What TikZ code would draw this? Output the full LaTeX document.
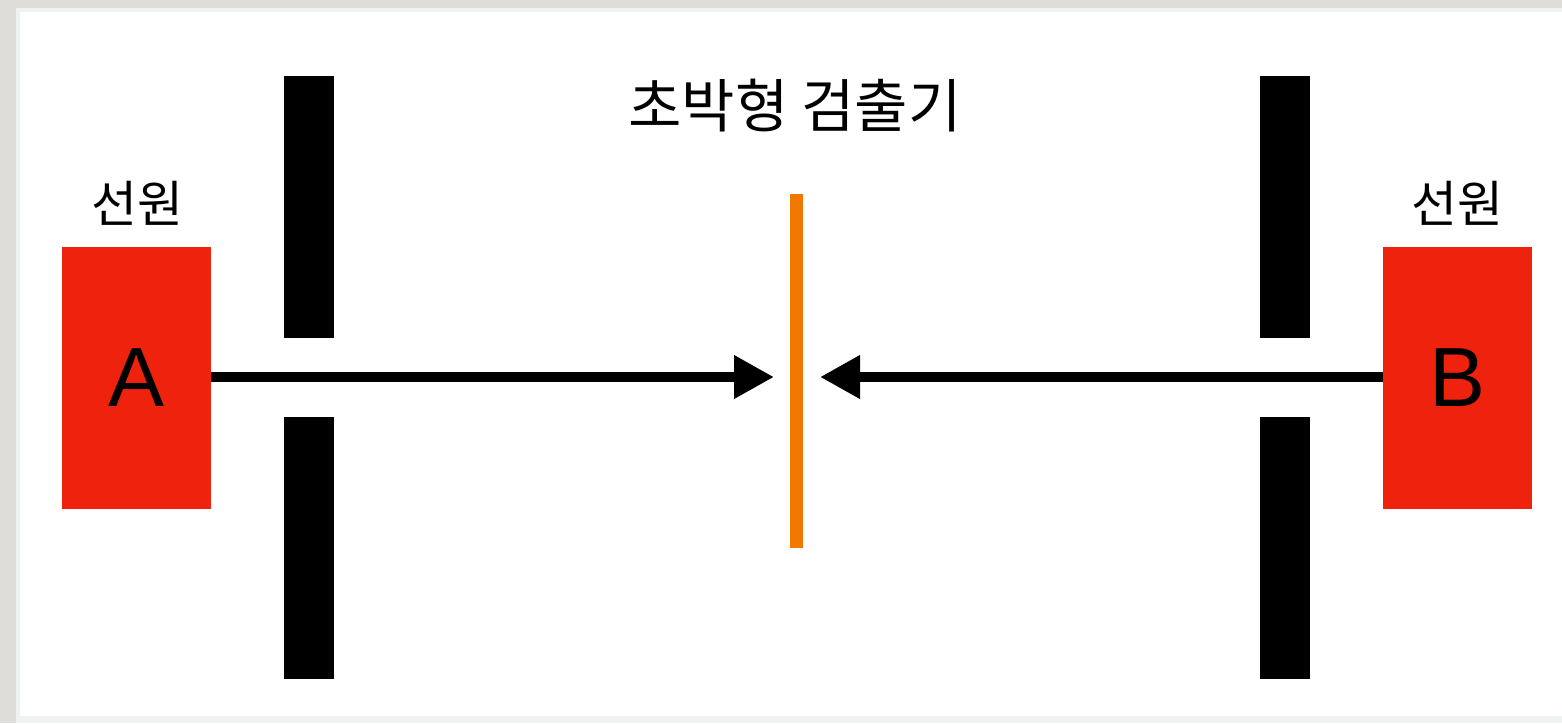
\documentclass[tikz,border=0pt]{standalone}
\usepackage{fontspec}
\setmainfont{Liberation Sans}
\newfontfamily\kor{Noto Sans CJK KR}
\usetikzlibrary{arrows.meta}
\definecolor{bggray}{HTML}{DEDDDA}
\definecolor{paneledge}{HTML}{EEF2F2}
\definecolor{srcred}{HTML}{EF220E}
\definecolor{detorange}{HTML}{F07800}
\tikzset{
  srcbox/.style={fill=srcred, draw=none},
  wall/.style={fill=black, draw=none},
  beam/.style={line width=10pt, -{Triangle[length=40pt,width=41pt]}},
  lbl/.style={font=\kor\fontsize{50}{56}\selectfont, inner sep=0pt},
}
\begin{document}
\begin{tikzpicture}[x=1pt,y=-1pt]
\useasboundingbox (0,0) rectangle (1562,723);
\fill[bggray] (0,0) rectangle (1562,723);
\fill[paneledge] (16,8) rectangle (1562,723);
\fill[white] (20,12) rectangle (1562,716);
% walls
\fill[wall] (284,76) rectangle (334,338);
\fill[wall] (284,417) rectangle (334,679);
\fill[wall] (1260,76) rectangle (1310,338);
\fill[wall] (1260,417) rectangle (1310,679);
% detector
\fill[detorange] (790,194) rectangle (803,548);
\node[lbl, font=\kor\fontsize{58}{64}\selectfont] (title) at (795,106) {초박형 검출기};
% sources
\node[srcbox, minimum width=149pt, minimum height=262pt, inner sep=0pt,
      font=\fontsize{84}{90}\selectfont] (A) at (136.5,378) {A};
\node[srcbox, minimum width=149pt, minimum height=262pt, inner sep=0pt,
      font=\fontsize{84}{90}\selectfont] (B) at (1457.5,378) {B};
\node[lbl] (lA) at (137,203) {선원};
\node[lbl] (lB) at (1457,203) {선원};
\coordinate (tipA) at (774,377);
\coordinate (tipB) at (820,377);
\draw[beam] (A.east |- tipA) -- (tipA);
\draw[beam] (B.west |- tipB) -- (tipB);
\end{tikzpicture}
\end{document}
